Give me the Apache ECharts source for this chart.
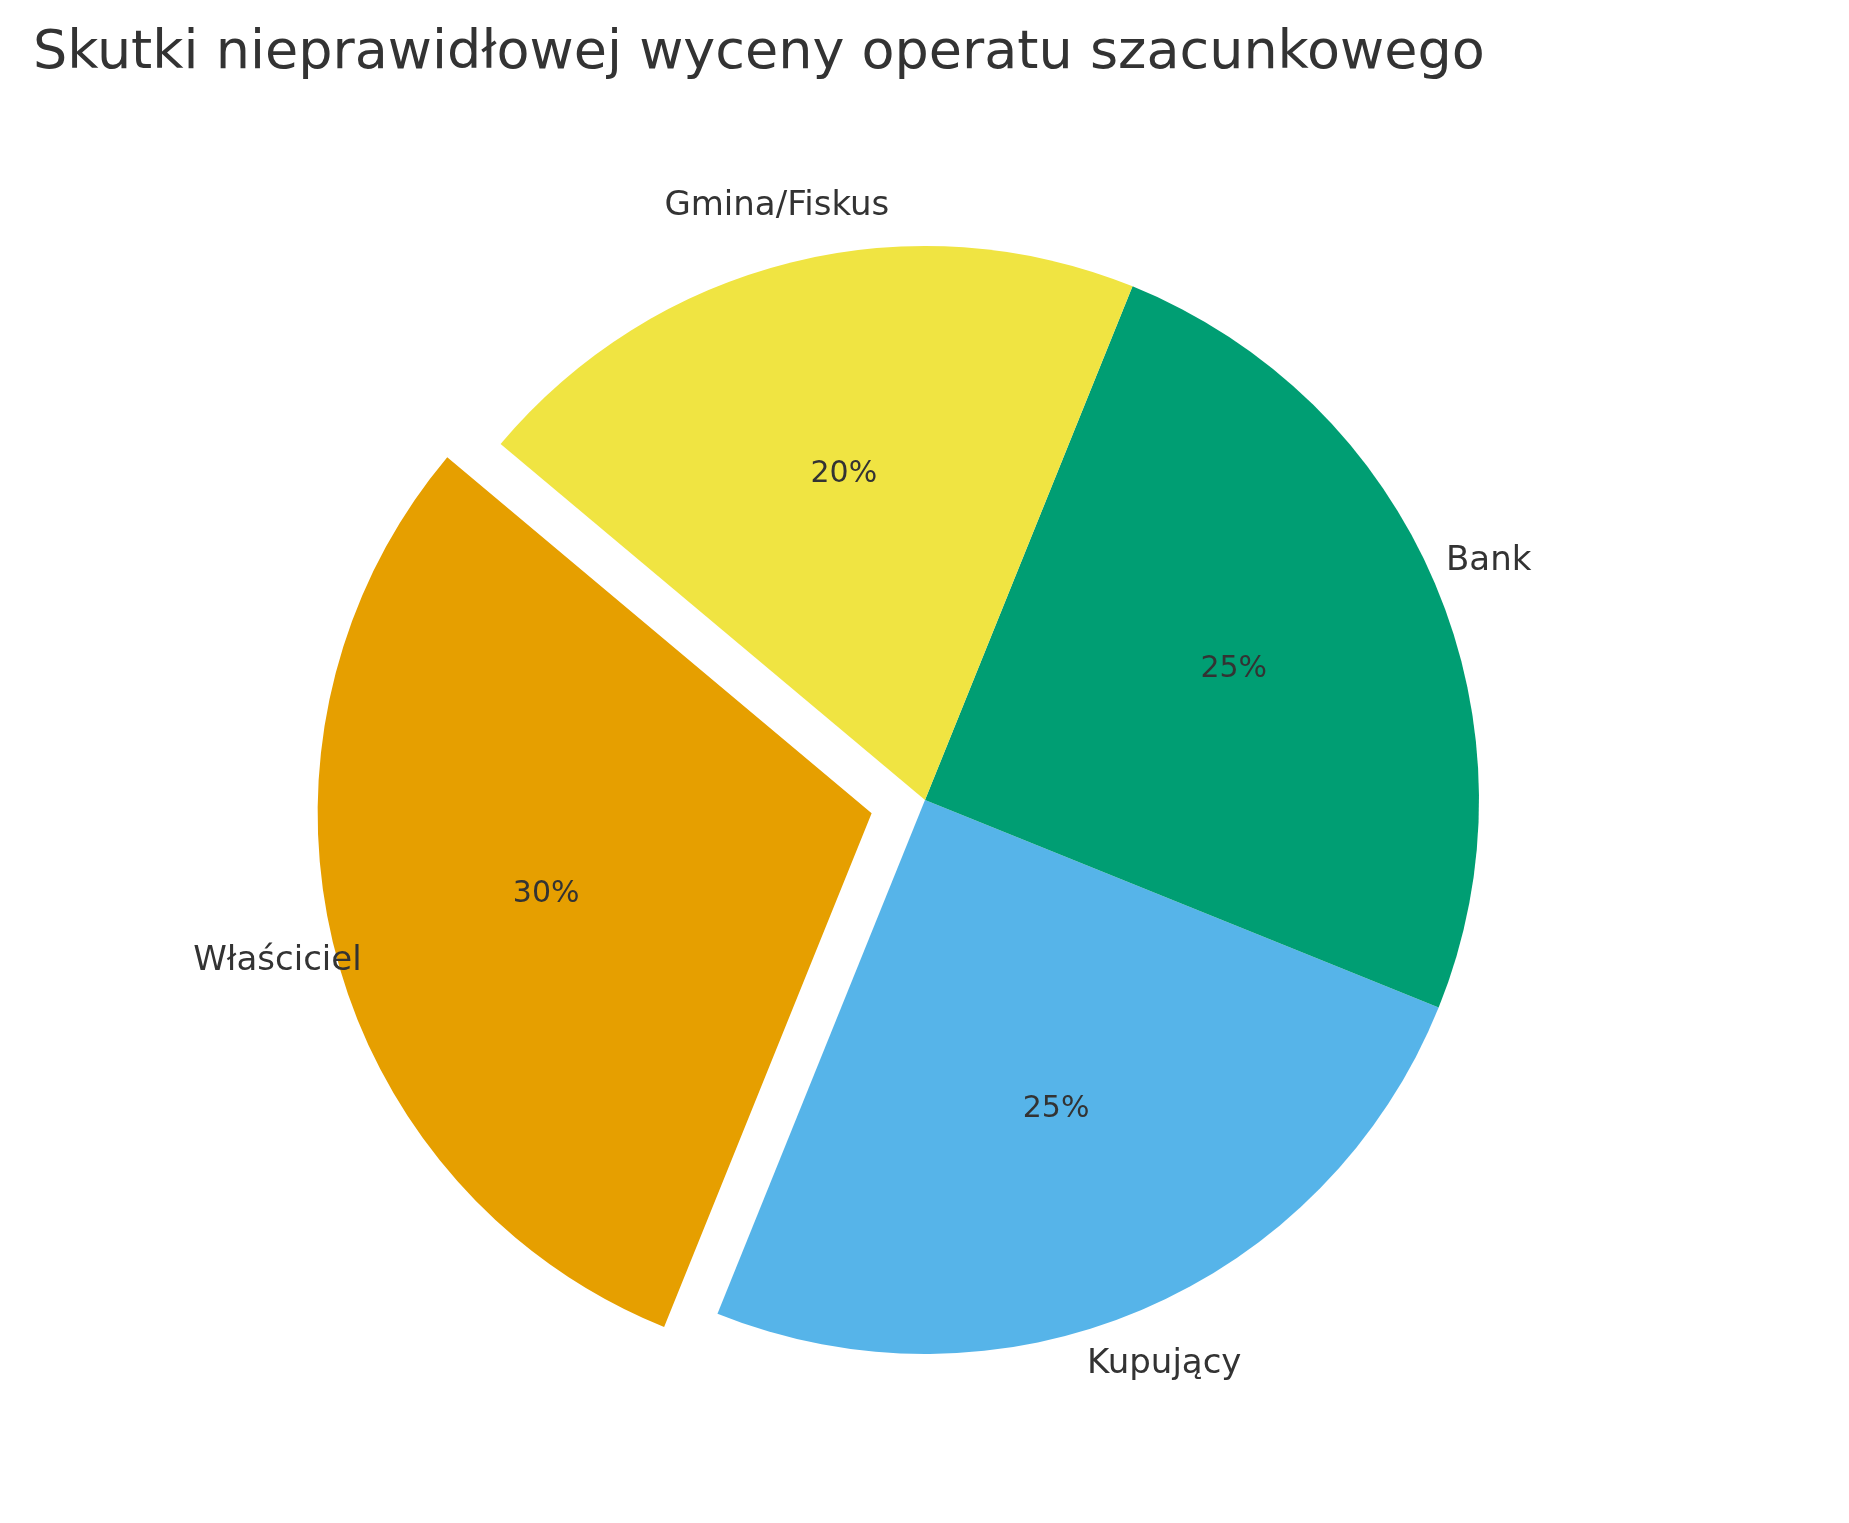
<!DOCTYPE html>
<html><head><meta charset="utf-8">
<script src="https://cdn.jsdelivr.net/npm/echarts@6/dist/echarts.min.js"></script>
<style>html,body{margin:0;padding:0;background:#fff}#c{width:1849px;height:1523px}</style>
</head><body><div id="c"></div>
<script>
const categories = ['Właściciel', 'Kupujący', 'Bank', 'Gmina/Fiskus'];
const values = [30, 25, 25, 20];
const colors = ['#E69F00', '#56B4E9', '#009E73', '#F0E442'];
const labelAlign = ['right', 'left', 'left', 'right'];
const exploded = [true, false, false, false];

const center = [925, 800];
const R = 554;
const off = 55;
const font = 'DejaVu Sans';

function mk(extra) {
  return categories.map((c, i) => Object.assign({
    name: c, value: values[i], selected: exploded[i]
  }, extra(i)));
}
const base = {
  type: 'pie', center: center, startAngle: 140, clockwise: false,
  selectedMode: 'multiple', selectedOffset: off, silent: true,
  emphasis: {disabled: true}, labelLine: {show: false}, animation: false
};
const chart = echarts.init(document.getElementById('c'));
chart.setOption({
  backgroundColor: '#fff',
  title: {text: 'Skutki nieprawidłowej wyceny operatu szacunkowego', left: 28, top: 22,
    textStyle: {fontFamily: font, fontSize: 54, fontWeight: 'normal', color: '#333'}},
  series: [
    Object.assign({}, base, {radius: [0, R], label: {show: false},
      data: mk(i => ({itemStyle: {color: colors[i]}}))}),
    Object.assign({}, base, {radius: [R * 0.2, R], label: {show: true, position: 'inside',
      formatter: '{d}%', fontFamily: font, fontSize: 30, color: '#333'},
      data: mk(i => ({itemStyle: {color: 'rgba(0,0,0,0)'}}))}),
    Object.assign({}, base, {radius: [R, R * 1.2], label: {show: true, position: 'inside',
      formatter: '{b}', fontFamily: font, fontSize: 34, color: '#333'},
      data: mk(i => ({itemStyle: {color: 'rgba(0,0,0,0)'}, label: {align: labelAlign[i]}}))})
  ]
});
</script></body></html>
